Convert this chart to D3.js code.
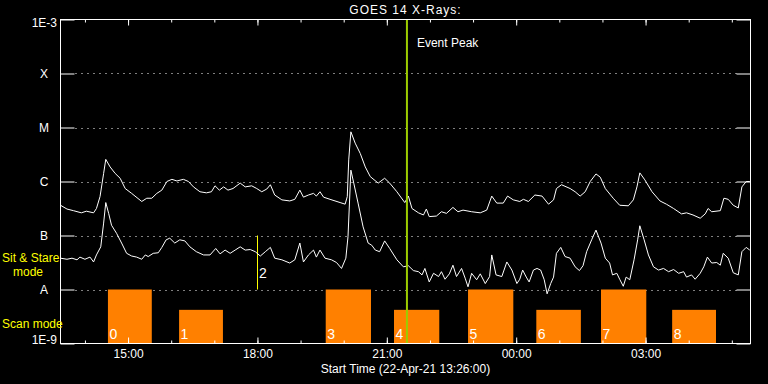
<!DOCTYPE html>
<html>
<head>
<meta charset="utf-8">
<script src="https://cdn.jsdelivr.net/npm/d3@7"></script>
<style>
  body { margin: 0; background: #000; }
  svg { display: block; font-family: "Liberation Sans", Arial, sans-serif; }
</style>
</head>
<body>
<div id="chart"></div>
<script>
// start of the plot: 22-Apr-21 13:26:00 UT, 16 hours shown
var startTime = Date.UTC(2021, 3, 22, 13, 26, 0);
var spanMinutes = 960;

// GOES long channel (1-8 A), minutes after start / log10 flux (W m-2)
var longMin = [0,9,18,29,36,46,50,55,60,63,
  69,76,83,90,99,113,120,127,134,141,
  148,155,162,171,178,185,194,203,210,215,
  221,227,233,240,250,257,266,273,280,287,
  292,298,308,319,326,333,338,345,352,356,
  361,366,375,389,396,399,401,404,410,417,
  424,431,442,451,458,468,479,484,489,498,
  505,509,513,523,530,537,546,553,560,572,
  584,593,600,607,616,622,630,639,644,651,
  660,670,679,686,690,697,709,716,723,730,
  737,745,751,758,769,778,790,797,802,806,
  813,823,834,843,853,864,871,880,890,897,
  901,906,918,923,929,936,943,948,954,959];
var longLog = [-6.44,-6.51,-6.54,-6.58,-6.55,-6.58,-6.50,-6.28,-5.85,-5.59,
  -5.73,-5.85,-5.94,-6.13,-6.22,-6.37,-6.31,-6.31,-6.22,-6.16,
  -6.00,-5.96,-5.99,-5.96,-6.00,-6.10,-6.19,-6.21,-6.19,-6.08,
  -6.16,-6.10,-6.16,-6.13,-6.03,-6.10,-6.08,-6.13,-6.19,-6.14,
  -6.06,-6.25,-6.34,-6.36,-6.33,-6.16,-6.29,-6.25,-6.22,-6.27,
  -6.19,-6.29,-6.33,-6.39,-6.42,-6.28,-5.60,-5.08,-5.29,-5.48,
  -5.73,-5.91,-6.03,-5.94,-6.03,-6.19,-6.39,-6.27,-6.50,-6.58,
  -6.62,-6.51,-6.65,-6.64,-6.56,-6.59,-6.48,-6.56,-6.53,-6.56,
  -6.58,-6.53,-6.27,-6.40,-6.40,-6.27,-6.34,-6.37,-6.33,-6.37,
  -6.25,-6.27,-6.42,-6.34,-6.13,-6.06,-6.13,-6.19,-6.27,-6.19,
  -6.00,-5.86,-5.92,-6.13,-6.31,-6.44,-6.45,-6.34,-6.10,-5.84,
  -5.97,-6.19,-6.36,-6.42,-6.50,-6.60,-6.58,-6.62,-6.68,-6.60,
  -6.50,-6.56,-6.54,-6.31,-6.33,-6.44,-6.49,-6.10,-6.00,-6.00];

// GOES short channel (0.5-4 A)
var shortMin = [0,9,16,23,27,34,41,46,50,56,
  60,63,67,71,78,85,92,99,106,113,
  118,122,129,136,141,147,152,159,166,173,
  180,189,199,208,216,222,229,236,243,250,
  257,264,271,278,285,292,298,308,319,326,
  333,338,345,352,356,361,368,377,384,391,
  397,400,404,408,414,421,428,433,438,444,
  451,458,468,477,484,491,498,503,507,513,
  519,526,530,535,541,546,551,558,563,567,
  572,579,584,591,597,600,606,614,621,628,
  635,639,643,648,652,658,663,668,673,677,
  682,686,690,696,702,709,716,722,727,732,
  739,745,752,758,764,768,774,778,783,787,
  792,798,803,806,812,818,825,832,839,846,
  853,860,867,871,878,883,890,895,900,906,
  913,918,922,929,936,943,948,954,959];
var shortLog = [-7.42,-7.44,-7.42,-7.45,-7.40,-7.44,-7.40,-7.49,-7.36,-7.21,
  -6.77,-6.39,-6.59,-6.81,-6.96,-7.14,-7.33,-7.38,-7.40,-7.44,
  -7.36,-7.39,-7.33,-7.32,-7.22,-7.08,-7.05,-7.14,-7.08,-7.10,
  -7.21,-7.30,-7.36,-7.36,-7.24,-7.34,-7.27,-7.33,-7.27,-7.21,
  -7.27,-7.26,-7.30,-7.38,-7.30,-7.22,-7.42,-7.45,-7.51,-7.45,
  -7.14,-7.49,-7.36,-7.27,-7.40,-7.27,-7.42,-7.45,-7.50,-7.61,
  -7.42,-7.02,-5.79,-6.03,-6.40,-6.84,-7.14,-7.18,-7.27,-7.30,
  -7.10,-7.24,-7.45,-7.58,-7.56,-7.65,-7.67,-7.73,-7.61,-7.86,
  -7.70,-7.76,-7.67,-7.81,-7.71,-7.55,-7.76,-7.61,-7.79,-7.95,
  -7.70,-7.82,-7.71,-7.89,-7.76,-7.36,-7.73,-7.76,-7.49,-7.64,
  -7.89,-7.81,-7.64,-7.77,-7.86,-7.64,-7.61,-7.64,-7.82,-8.08,
  -7.89,-7.77,-7.33,-7.22,-7.39,-7.42,-7.58,-7.65,-7.56,-7.30,
  -7.08,-6.90,-7.14,-7.42,-7.51,-7.73,-7.70,-7.81,-7.94,-7.77,
  -7.82,-7.45,-7.08,-6.82,-7.08,-7.36,-7.58,-7.64,-7.61,-7.67,
  -7.63,-7.70,-7.67,-7.77,-7.73,-7.81,-7.70,-7.58,-7.40,-7.51,
  -7.50,-7.55,-7.33,-7.42,-7.69,-7.73,-7.30,-7.22,-7.27];

// flux levels and their labels on the left
var levelFlux = [1e-9, 1e-8, 1e-7, 1e-6, 1e-5, 1e-4, 1e-3];
var levelLabel = ["1E-9", "A", "B", "C", "M", "X", "1E-3"];

// IRIS observation windows (minutes after start), scan 2 is a sit & stare
var scanId = ["0", "1", "2", "3", "4", "5", "6", "7", "8"];
var scanStart = [66, 165, 274, 369, 464, 567, 662, 752, 851];
var scanEnd = [127, 226, 274, 432, 527, 630, 724, 815, 912];
var scanTop = [1e-8, 4.2e-9, 1e-7, 1e-8, 4.2e-9, 1e-8, 4.2e-9, 1e-8, 4.2e-9];
var scanMode = ["scan", "scan", "stare", "scan", "scan", "scan", "scan", "scan", "scan"];

var eventPeakMin = 482;

var width = 768, height = 384;
var margin = {top: 19.5, right: 17.5, bottom: 40.5, left: 60.5};

function toDate(m) { return new Date(startTime + m * 60000); }

var x = d3.scaleUtc()
  .domain([toDate(0), toDate(spanMinutes)])
  .range([margin.left, width - margin.right]);
var y = d3.scaleLog()
  .domain([1e-9, 1e-3])
  .range([height - margin.bottom, margin.top]);

var svg = d3.select("#chart").append("svg")
  .attr("width", width)
  .attr("height", height)
  .style("background", "#000");

var x0 = x.range()[0], x1 = x.range()[1];
var yBot = y.range()[0], yTop = y.range()[1];

// dotted gridlines between the solid stubs
svg.append("g")
  .selectAll("line")
  .data(levelFlux.slice(1, -1))
  .enter().append("line")
  .attr("x1", x0 + 15).attr("x2", x1 - 14)
  .attr("y1", function(d) { return Math.round(y(d)) + 0.5; })
  .attr("y2", function(d) { return Math.round(y(d)) + 0.5; })
  .style("stroke", "#fff")
  .style("stroke-dasharray", "1,5");

// scan windows
var scans = scanId.map(function(id, i) {
  return {id: id, s: scanStart[i], e: scanEnd[i], top: scanTop[i], mode: scanMode[i]};
});

svg.append("g").selectAll("rect")
  .data(scans.filter(function(d) { return d.mode == "scan"; }))
  .enter().append("rect")
  .attr("x", function(d) { return x(toDate(d.s)); })
  .attr("width", function(d) { return x(toDate(d.e)) - x(toDate(d.s)); })
  .attr("y", function(d) { return y(d.top); })
  .attr("height", function(d) { return yBot - y(d.top); })
  .style("fill", "#ff8000");

svg.append("g").selectAll("line")
  .data(scans.filter(function(d) { return d.mode == "stare"; }))
  .enter().append("line")
  .attr("x1", function(d) { return Math.round(x(toDate(d.s))) + 0.5; })
  .attr("x2", function(d) { return Math.round(x(toDate(d.s))) + 0.5; })
  .attr("y1", function(d) { return y(d.top); })
  .attr("y2", y(1e-8))
  .style("stroke", "#ffff00");

svg.append("g").selectAll("text")
  .data(scans)
  .enter().append("text")
  .attr("x", function(d) { return x(toDate(d.s)) + 1.5; })
  .attr("y", function(d) { return d.mode == "stare" ? 278 : 338.5; })
  .style("font-size", "14px")
  .style("fill", "#fff")
  .text(function(d) { return d.id; });

// light curves
var line = d3.line()
  .x(function(d) { return x(toDate(d[0])); })
  .y(function(d) { return y(Math.pow(10, d[1])); });

[[longMin, longLog], [shortMin, shortLog]].forEach(function(s) {
  svg.append("path")
    .datum(d3.zip(s[0], s[1]))
    .attr("d", line)
    .style("fill", "none")
    .style("stroke", "#fff")
    .style("stroke-width", 1);
});

// event peak marker
var xp = x(toDate(eventPeakMin));
svg.append("line")
  .attr("x1", xp).attr("x2", xp)
  .attr("y1", yTop).attr("y2", yBot)
  .style("stroke", "#9ccc00")
  .style("stroke-width", 2);
svg.append("text")
  .attr("x", xp + 10).attr("y", 46.5)
  .style("font-size", "12px")
  .style("fill", "#fff")
  .text("Event Peak");

// frame and axes
svg.append("rect")
  .attr("x", x0).attr("y", yTop)
  .attr("width", x1 - x0).attr("height", yBot - yTop)
  .style("fill", "none").style("stroke", "#fff");

function timeAxis(axis, yPos, major, labels) {
  var g = svg.append("g")
    .attr("transform", "translate(0," + yPos + ")")
    .attr("color", "#fff")
    .style("font-size", "12px")
    .style("font-family", "Liberation Sans, Arial, sans-serif")
    .call(axis(x)
      .ticks(d3.utcHour.every(major ? 3 : 1))
      .tickSize(major ? -6 : -3)
      .tickSizeOuter(0)
      .tickPadding(5.5)
      .tickFormat(labels ? d3.utcFormat("%H:%M") : ""));
  g.select(".domain").remove();
  return g;
}
timeAxis(d3.axisBottom, yBot, false, false);
timeAxis(d3.axisBottom, yBot, true, true);
timeAxis(d3.axisTop, yTop, false, false);
timeAxis(d3.axisTop, yTop, true, false);

[[d3.axisLeft, x0], [d3.axisRight, x1]].forEach(function(a) {
  var g = svg.append("g")
    .attr("transform", "translate(" + a[1] + ",0)")
    .attr("color", "#fff")
    .call(a[0](y).tickValues(levelFlux).tickSize(-14).tickFormat(""));
  g.select(".domain").remove();
});

svg.append("g").selectAll("text")
  .data(levelLabel)
  .enter().append("text")
  .attr("x", function(d) { return d.length > 1 ? 57 : 44; })
  .attr("y", function(d, i) { return y(levelFlux[i]); })
  .attr("dy", function(d, i) { return i == 0 ? "0.05em" : (i == levelLabel.length - 1 ? "0.62em" : "0.36em"); })
  .attr("text-anchor", function(d) { return d.length > 1 ? "end" : "middle"; })
  .style("font-size", "12px")
  .style("fill", "#fff")
  .text(function(d) { return d; });

// titles
svg.append("text")
  .attr("x", (x0 + x1) / 2).attr("y", 13.5)
  .attr("text-anchor", "middle")
  .style("font-size", "12px")
  .style("letter-spacing", "1px")
  .style("fill", "#fff")
  .text("GOES 14 X-Rays:");

svg.append("text")
  .attr("x", (x0 + x1) / 2).attr("y", 372.5)
  .attr("text-anchor", "middle")
  .style("font-size", "12px")
  .style("fill", "#fff")
  .text("Start Time (22-Apr-21 13:26:00)");

// mode legend
var modeText = [["Sit & Stare", 2, 262], ["mode", 13, 276], ["Scan mode", 2, 327.5]];
svg.append("g").selectAll("text")
  .data(modeText)
  .enter().append("text")
  .attr("x", function(d) { return d[1]; })
  .attr("y", function(d) { return d[2]; })
  .style("font-size", "12px")
  .style("fill", "#ffff00")
  .text(function(d) { return d[0]; });
</script>
</body>
</html>
